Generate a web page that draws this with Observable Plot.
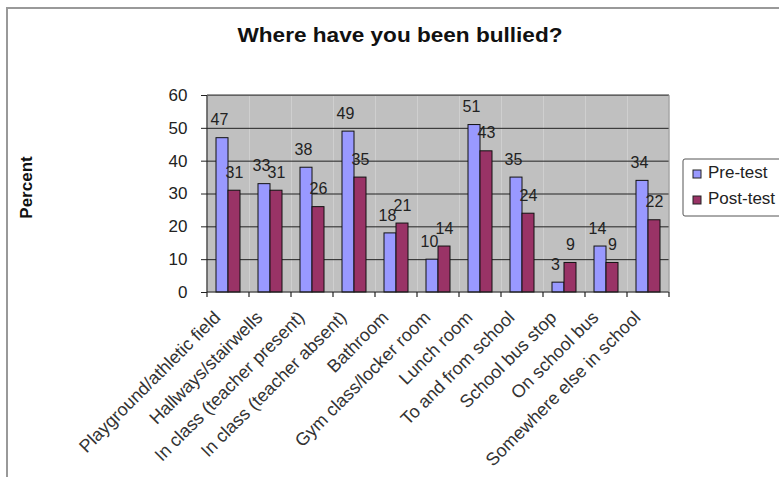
<!DOCTYPE html>
<html>
<head>
<meta charset="utf-8">
<script src="https://cdn.jsdelivr.net/npm/d3@7"></script>
<script src="https://cdn.jsdelivr.net/npm/@observablehq/plot@0.6"></script>
<style>
  html, body { margin: 0; padding: 0; background: #fff; }
</style>
</head>
<body>
<div id="chart"></div>
<script>
const categories = [
  "Playground/athletic field",
  "Hallways/stairwells",
  "In class (teacher present)",
  "In class (teacher absent)",
  "Bathroom",
  "Gym class/locker room",
  "Lunch room",
  "To and from school",
  "School bus stop",
  "On school bus",
  "Somewhere else in school"
];
const series = ["Pre-test", "Post-test"];
const preTest  = [47, 33, 38, 49, 18, 10, 51, 35, 3, 14, 34];
const postTest = [31, 31, 26, 35, 21, 14, 43, 24, 9, 9, 22];
const yTicks = [0, 10, 20, 30, 40, 50, 60];
const gridTicks = [10, 20, 30, 40, 50, 60];
const titleText = "Where have you been bullied?";
const yLabel = "Percent";

const data = categories.flatMap((c, i) => [
  {category: c, series: series[0], value: preTest[i]},
  {category: c, series: series[1], value: postTest[i]}
]);
const preData = data.filter(d => d.series === series[0]);
const postData = data.filter(d => d.series === series[1]);

const FONT = "'Liberation Sans', Arial, Helvetica, sans-serif";

const labelOpts = {fx: "category", x: "series", y: "value", text: d => String(d.value),
  lineAnchor: "middle", fontSize: 16, fill: "#222"};

const plot = Plot.plot({
  width: 779,
  height: 477,
  marginLeft: 203,
  marginRight: 106,
  marginTop: 95,
  marginBottom: 185,
  style: {fontFamily: FONT, background: "white", color: "#222", overflow: "visible"},
  fx: {domain: categories, padding: 0, label: null},
  x: {domain: series, paddingInner: 0, paddingOuter: 0.64, axis: null},
  y: {domain: [0, 60], axis: null},
  color: {domain: series, range: ["#9999ff", "#993366"]},
  marks: [
    Plot.frame({fill: "#c0c0c0"}),
    Plot.ruleY(gridTicks, {stroke: "#222", strokeWidth: 1}),
    Plot.barY(data, {fx: "category", x: "series", y: "value", fill: "series", stroke: "#111", strokeWidth: 1}),
    Plot.text(preData, {...labelOpts, dy: -18, dx: -3}),
    Plot.text(postData, {...labelOpts, dy: -18, dx: 0}),
    Plot.axisY({ticks: yTicks, tickSize: 6, tickPadding: 14, fontSize: 17, label: null, stroke: "#222"}),
    Plot.axisFx({anchor: "bottom", tickRotate: -45, tickSize: 0, tickPadding: 10, dx: -11, dy: 12, fontSize: 18, label: null, fill: "#333"})
  ]
});

document.getElementById("chart").appendChild(plot);

const svg = d3.select(plot);
const fx = plot.scale("fx");
const y = plot.scale("y");
const color = plot.scale("color");
const y0 = y.apply(0), yTop = y.apply(60);
const xLeft = fx.apply(categories[0]);
const xRight = fx.apply(categories[categories.length - 1]) + fx.bandwidth;

// axis lines and category boundary ticks
const g = svg.append("g").attr("stroke", "#222").attr("stroke-width", 1.2);
g.append("line").attr("x1", xLeft).attr("x2", xLeft).attr("y1", yTop).attr("y2", y0);
g.append("line").attr("x1", xLeft).attr("x2", xRight).attr("y1", y0).attr("y2", y0);
const bounds = categories.map(c => fx.apply(c)).concat([xRight]);
g.selectAll("line.bt").data(bounds).join("line").attr("class", "bt")
  .attr("x1", d => d).attr("x2", d => d).attr("y1", y0).attr("y2", y0 + 5);
svg.append("line").attr("x1", xLeft).attr("x2", xRight).attr("y1", yTop).attr("y2", yTop)
  .attr("stroke", "#777").attr("stroke-width", 1.5);
svg.append("line").attr("x1", xRight).attr("x2", xRight).attr("y1", yTop).attr("y2", y0)
  .attr("stroke", "#999").attr("stroke-width", 1);

// outer chart border (cropped on right/bottom)
svg.append("rect").attr("x", 7).attr("y", 8).attr("width", 900).attr("height", 600)
  .attr("fill", "none").attr("stroke", "#999").attr("stroke-width", 2);

// title
svg.append("text").attr("x", 400).attr("y", 37)
  .attr("text-anchor", "middle").attr("dominant-baseline", "middle")
  .attr("font-family", FONT).attr("font-weight", "bold").attr("font-size", 20)
  .attr("textLength", 325).attr("lengthAdjust", "spacingAndGlyphs")
  .attr("fill", "#111").text(titleText);

// y label
svg.append("text").attr("transform", `translate(28,${(y0 + yTop) / 2 - 6}) rotate(-90)`)
  .attr("text-anchor", "middle").attr("dominant-baseline", "middle")
  .attr("font-family", FONT).attr("font-weight", "bold").attr("font-size", 17)
  .attr("fill", "#111").text(yLabel);

// legend
const lg = svg.append("g");
lg.append("rect").attr("x", 683).attr("y", 159).attr("width", 130).attr("height", 57)
  .attr("rx", 2).attr("fill", "white").attr("stroke", "#555").attr("stroke-width", 1);
color.domain.forEach((s, i) => {
  const cy = 174 + i * 26;
  lg.append("rect").attr("x", 693).attr("y", cy - 4).attr("width", 8).attr("height", 8)
    .attr("fill", color.apply(s)).attr("stroke", "#222").attr("stroke-width", 1);
  lg.append("text").attr("x", 708).attr("y", cy).attr("dominant-baseline", "middle")
    .attr("text-anchor", "start")
    .attr("font-family", FONT).attr("font-size", 17).attr("fill", "#222").text(s);
});
</script>
</body>
</html>
